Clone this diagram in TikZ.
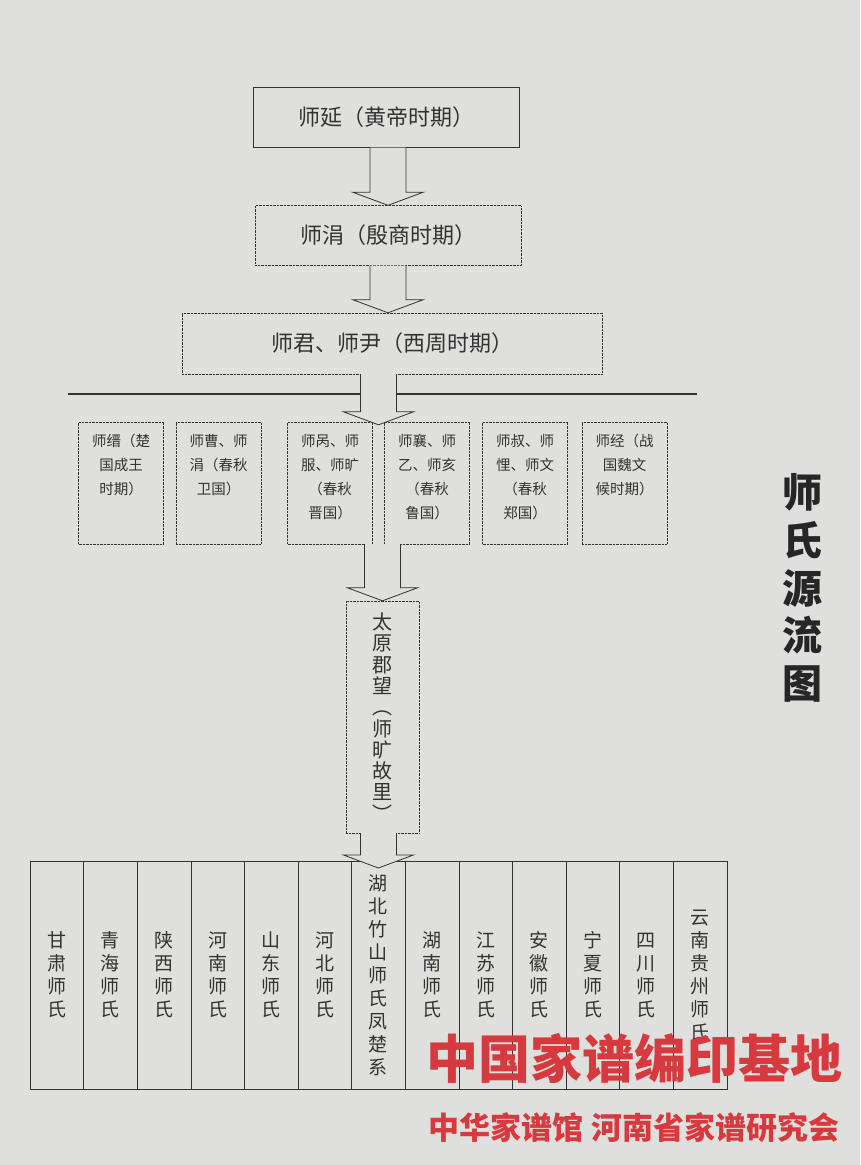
\documentclass[tikz,border=0pt]{standalone}
\usepackage{fontspec}
\newfontfamily\cjk{Noto Sans CJK SC}
\usetikzlibrary{calc}
\definecolor{paper}{RGB}{223,223,221}
\definecolor{ink}{RGB}{50,50,50}
\definecolor{stamp}{RGB}{214,58,62}

\newcommand{\hollowarrow}[2]{%
  \draw[hollow] let \p1=(#1), \p2=(#2) in
    (\x2-18pt,\y1) -- (\x2-18pt,\y2+13pt) -- (\x2-35pt,\y2+13pt) -- (\x2,\y2)
    -- (\x2+35pt,\y2+13pt) -- (\x2+18pt,\y2+13pt) -- (\x2+18pt,\y1);}

\begin{document}
\begin{tikzpicture}[x=1pt,y=-1pt]
  \tikzstyle{era}=[draw=ink, minimum width=266pt, minimum height=60pt, text=ink, font=\cjk\fontsize{22}{26}\selectfont]
  \tikzstyle{eradot}=[era, densely dotted]
  \tikzstyle{period}=[draw=ink, densely dotted, minimum width=85pt, minimum height=122pt, inner sep=0pt]
  \tikzstyle{periodtxt}=[anchor=north, inner sep=0pt, align=center, text=ink, font=\cjk\fontsize{14.5}{24}\selectfont]
  \tikzstyle{column}=[draw=ink, minimum width=53.6pt, minimum height=228pt, inner sep=0pt, outer sep=0pt, align=center, text=ink, font=\cjk\fontsize{19}{23}\selectfont]
  \tikzstyle{hollow}=[draw=ink, fill=paper, line width=0.8pt, line join=miter]
  \tikzstyle{title}=[align=center, text=black!85, font=\cjk\bfseries\fontsize{40}{47.7}\selectfont]
  \tikzstyle{stampbig}=[text=stamp, font=\cjk\bfseries\fontsize{52}{56}\selectfont]
  \tikzstyle{stampsmall}=[text=stamp, font=\cjk\bfseries\fontsize{31}{34}\selectfont]

  \fill[paper] (0,0) rectangle (860,1165);
  \useasboundingbox (0,0) rectangle (860,1165);

  \node[era] (p1) at (386,117.5) {师延（黄帝时期）};
  \node[eradot] (p2) at (388,235.5) {师涓（殷商时期）};
  \node[eradot, minimum width=420pt, minimum height=61pt] (p3) at (392,343.5) {师君、师尹（西周时期）};

  \draw[ink, line width=1.2pt] (68,394) -- (697,394);

  \foreach \n/\xc/\t in {ra/121/{师缙（楚\\国成王\\时期）}, rb/218.5/{师曹、师\\涓（春秋\\卫国）},
      rc/330/{师呙、师\\服、师旷\\（春秋\\晋国）}, rd/427/{师襄、师\\乙、师亥\\（春秋\\鲁国）},
      re/525/{师叔、师\\悝、师文\\（春秋\\郑国）}, rf/624.5/{师经（战\\国魏文\\候时期）}}
  {
    \node[period] (\n) at (\xc,483) {};
    \node[periodtxt] (\n-t) at ($(\n.north)+(0,12)$) {\t};
  }
  \coordinate (gap1) at ($(rc.north east)!0.5!(rd.north west)+(0,3)$);
  \coordinate (gap2) at ($(rc.south east)!0.5!(rd.south west)$);

  \node[period, minimum width=73pt, minimum height=232pt, align=center, text=ink,
        font=\cjk\fontsize{20}{21.3}\selectfont] (ty) at (382.5,717)
        {太\\原\\郡\\望\\︵\\师\\旷\\故\\里\\︶};

  \foreach \t [count=\i] in {{甘\\肃\\师\\氏}, {青\\海\\师\\氏}, {陕\\西\\师\\氏}, {河\\南\\师\\氏},
      {山\\东\\师\\氏}, {河\\北\\师\\氏}, {湖\\北\\竹\\山\\师\\氏\\凤\\楚\\系}, {湖\\南\\师\\氏},
      {江\\苏\\师\\氏}, {安\\徽\\师\\氏}, {宁\\夏\\师\\氏}, {四\\川\\师\\氏}, {云\\南\\贵\\州\\师\\氏}}
    \node[column] (c\i) at ({30+53.6*(\i-0.5)},975) {\t};

  \hollowarrow{p1.south}{p2.north}
  \hollowarrow{p2.south}{p3.north -| p2.south}
  \hollowarrow{p3.south}{gap1}
  \hollowarrow{gap2}{ty.north}
  \hollowarrow{ty.south}{$(c7.north)+(0,7)$}

  \node[title] (ttl) at (802,588) {师\\氏\\源\\流\\图};

  \node[stampbig] (wm1) at (634,1058) {中国家谱编印基地};
  \node[stampsmall] (wm2) at (634,1128) {中华家谱馆 河南省家谱研究会};
\end{tikzpicture}
\end{document}
